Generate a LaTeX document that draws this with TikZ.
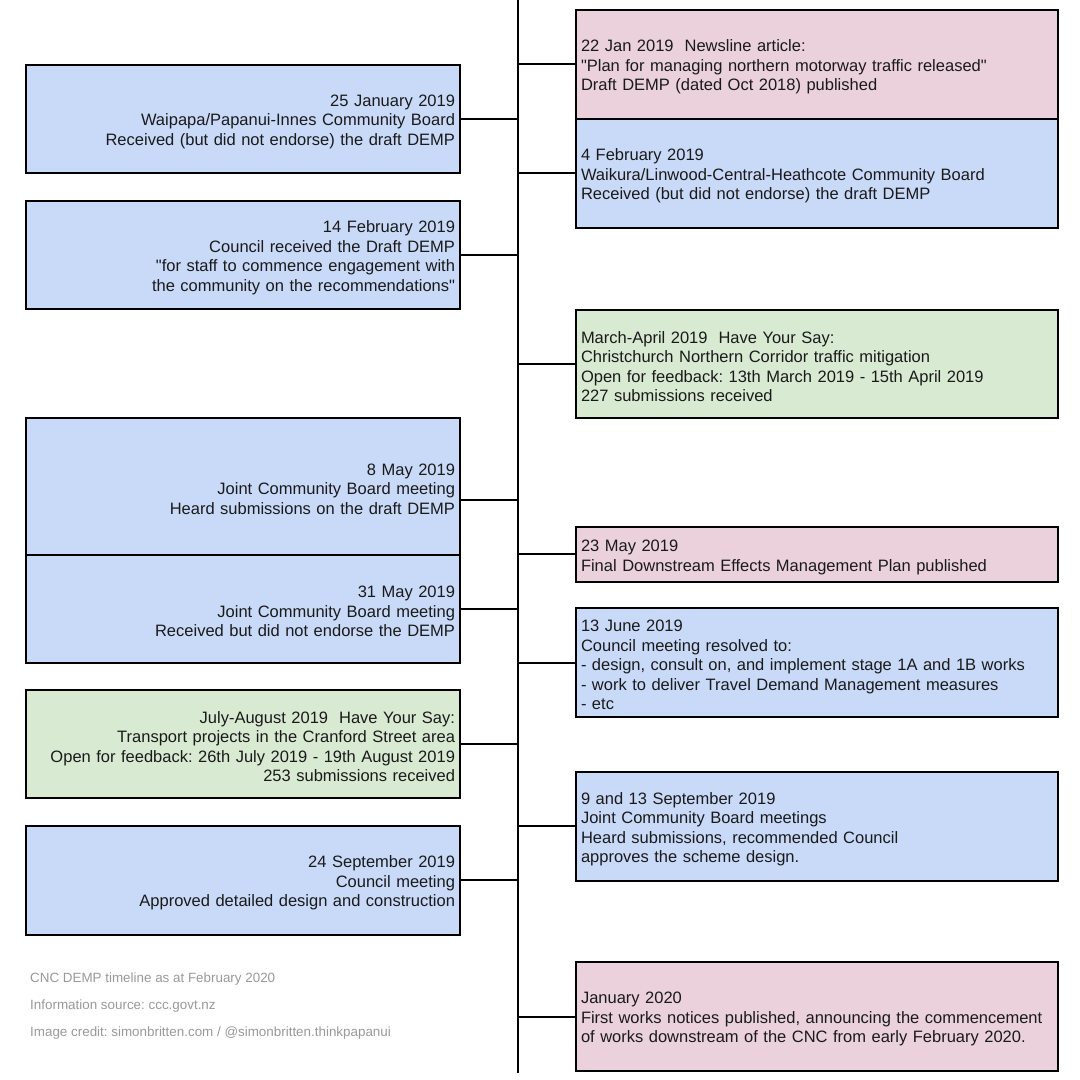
\documentclass[tikz,border=0pt]{standalone}
\usepackage{fontspec}
\setmainfont{Liberation Sans}[Ligatures=TeXOff]
\definecolor{bfill}{HTML}{C9DAF8}
\definecolor{pfill}{HTML}{EAD1DC}
\definecolor{gfill}{HTML}{D9EAD3}
\definecolor{footgray}{HTML}{999999}
\definecolor{txt}{HTML}{1A1A1A}
\newcommand\qq{\symbol{34}}
\frenchspacing
\begin{document}
\begin{tikzpicture}[x=1pt,y=-1pt,
  box/.style={draw=black, line width=1.6pt, outer sep=0pt, inner xsep=5pt, inner ysep=0pt,
    text=txt, font=\fontsize{16.5}{19.5}\selectfont, anchor=north west},
  lbox/.style={box, minimum width=434pt, text width=424pt, align=right},
  rbox/.style={box, minimum width=482pt, text width=472pt, align=left},
  blue/.style={fill=bfill}, pink/.style={fill=pfill}, green/.style={fill=gfill},
  conn/.style={draw=black, line width=1.6pt},
  spine/.style={draw=black, line width=2.2pt},
  foot/.style={anchor=west, text=footgray, font=\fontsize{13.4}{15}\selectfont, inner sep=0pt}]
\fill[white] (0,0) rectangle (1080,1080);
\useasboundingbox (0,0) rectangle (1080,1080);

% spine
\coordinate (top) at (518,0);
\coordinate (bot) at (518,1073);

% left boxes
\node[lbox,blue,minimum height=108pt] (L1) at (26,65) {\rule{0pt}{17pt}25 January 2019\\Waipapa/Papanui-Innes Community Board\\Received (but did not endorse) the draft DEMP};
\node[lbox,blue,minimum height=108pt] (L2) at (26,201) {\rule{0pt}{17pt}14 February 2019\\Council received the Draft DEMP\\\qq for staff to commence engagement with\\the community on the recommendations\qq};
\node[lbox,blue,minimum height=137pt] (L3) at (26,418) {\rule{0pt}{17pt}8 May 2019\\Joint Community Board meeting\\Heard submissions on the draft DEMP};
\node[lbox,blue,minimum height=108pt] (L4) at (26,555) {\rule{0pt}{17pt}31 May 2019\\Joint Community Board meeting\\Received but did not endorse the DEMP};
\node[lbox,green,minimum height=108pt] (L5) at (26,690) {\rule{0pt}{17pt}July-August 2019\ \ Have Your Say:\\Transport projects in the Cranford Street area\\Open for feedback: 26th July 2019 - 19th August 2019\\253 submissions received};
\node[lbox,blue,minimum height=109pt] (L6) at (26,826) {\rule{0pt}{17pt}24 September 2019\\Council meeting\\Approved detailed design and construction};

% right boxes
\node[rbox,pink,minimum height=109pt] (R1) at (576,10) {\rule{0pt}{17pt}22 Jan 2019\ \ Newsline article:\\\qq Plan for managing northern motorway traffic released\qq\\Draft DEMP (dated Oct 2018) published};
\node[rbox,blue,minimum height=109pt] (R2) at (576,119) {\rule{0pt}{17pt}4 February 2019\\Waikura/Linwood-Central-Heathcote Community Board\\Received (but did not endorse) the draft DEMP};
\node[rbox,green,minimum height=108pt] (R3) at (576,310) {\rule{0pt}{17pt}March-April 2019\ \ Have Your Say:\\Christchurch Northern Corridor traffic mitigation\\Open for feedback: 13th March 2019 - 15th April 2019\\227 submissions received};
\node[rbox,pink,minimum height=55pt] (R4) at (576,527) {\rule{0pt}{17pt}23 May 2019\\Final Downstream Effects Management Plan published};
\node[rbox,blue,minimum height=109pt] (R5) at (576,608) {\rule{0pt}{17pt}13 June 2019\\Council meeting resolved to:\\- design, consult on, and implement stage 1A and 1B works\\- work to deliver Travel Demand Management measures\\- etc};
\node[rbox,blue,minimum height=109pt] (R6) at (576,772) {\rule{0pt}{17pt}9 and 13 September 2019\\Joint Community Board meetings\\Heard submissions, recommended Council\\approves the scheme design.};
\node[rbox,pink,minimum height=109pt] (R7) at (576,962) {\rule{0pt}{17pt}January 2020\\First works notices published, announcing the commencement\\of works downstream of the CNC from early February 2020.};

% connector points on spine
\coordinate (sL1) at (518,119);
\coordinate (sL2) at (518,255);
\coordinate (sL3) at (518,500);
\coordinate (sL4) at (518,609);
\coordinate (sL5) at (518,744);
\coordinate (sL6) at (518,880);
\coordinate (sR1) at (518,64);
\coordinate (sR2) at (518,173);
\coordinate (sR3) at (518,364);
\coordinate (sR4) at (518,554);
\coordinate (sR5) at (518,663);
\coordinate (sR6) at (518,826);
\coordinate (sR7) at (518,1017);

\foreach \n in {L1,L2,L3,L4,L5,L6}{\draw[conn] (\n.east |- s\n) -- (s\n);}
\foreach \n in {R1,R2,R3,R4,R5,R6,R7}{\draw[conn] (\n.west |- s\n) -- (s\n);}

\draw[spine] (top) -- (bot);

% footer
\node[foot] (f1) at (30,979) {CNC DEMP timeline as at February 2020};
\node[foot] (f2) at (30,1006) {Information source: ccc.govt.nz};
\node[foot] (f3) at (30,1033) {Image credit: simonbritten.com / @simonbritten.thinkpapanui};
\end{tikzpicture}
\end{document}
